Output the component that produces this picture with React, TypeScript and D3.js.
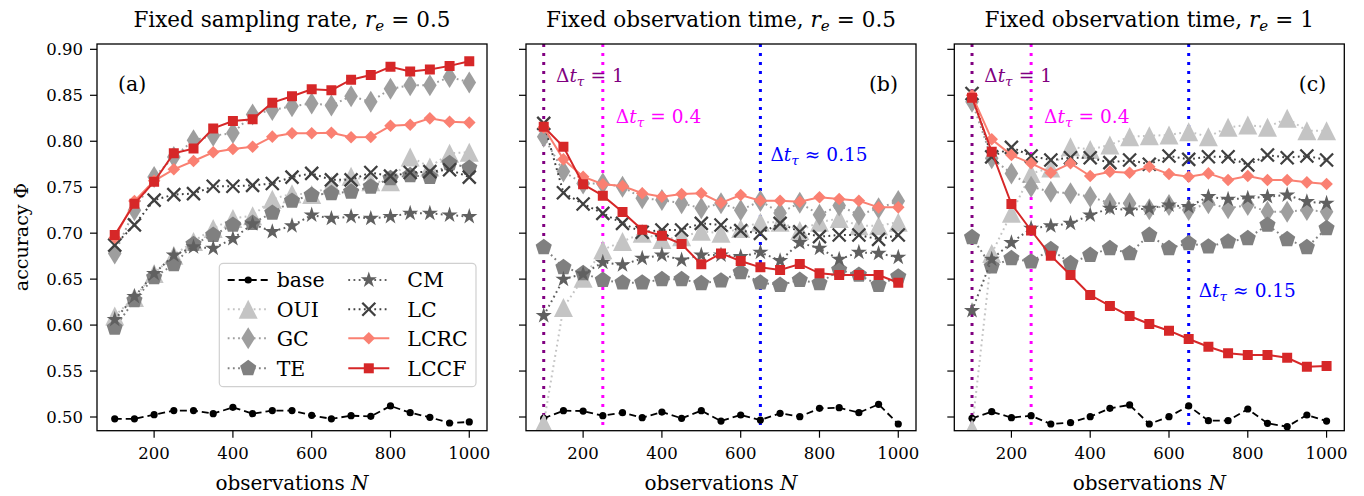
import React from "react";
import * as d3 from "d3";

const N = [100,150,200,250,300,350,400,450,500,550,600,650,700,750,800,850,900,950,1000];
const X_TICKS = [200,400,600,800,1000];
const Y_TICKS = [0.50,0.55,0.60,0.65,0.70,0.75,0.80,0.85,0.90];

const baseA = [0.498,0.498,0.5025,0.507,0.507,0.5036,0.5105,0.5036,0.507,0.507,0.5018,0.498,0.5014,0.5007,0.512,0.5047,0.4997,0.4935,0.4946];
const ouiA = [0.61,0.63,0.656,0.676,0.691,0.705,0.716,0.719,0.737,0.743,0.742,0.752,0.762,0.756,0.756,0.783,0.772,0.787,0.788];
const gcA = [0.678,0.725,0.761,0.783,0.801,0.806,0.809,0.829,0.834,0.838,0.841,0.839,0.849,0.843,0.857,0.861,0.861,0.870,0.864];
const teA = [0.597,0.627,0.652,0.666,0.688,0.698,0.709,0.711,0.722,0.735,0.7415,0.7434,0.745,0.7505,0.7597,0.763,0.761,0.776,0.771];
const cmA = [0.606,0.631,0.656,0.676,0.685,0.6835,0.694,0.71,0.7016,0.708,0.7197,0.716,0.718,0.716,0.718,0.7216,0.7216,0.7197,0.718];
const lcA = [0.687,0.709,0.736,0.742,0.743,0.751,0.751,0.752,0.754,0.761,0.765,0.758,0.758,0.766,0.762,0.766,0.767,0.769,0.761];
const lcrcA = [0.695,0.735,0.757,0.7695,0.7785,0.788,0.7916,0.794,0.805,0.8087,0.8087,0.8093,0.8043,0.8046,0.8168,0.8179,0.8249,0.8212,0.8203];
const lccfA = [0.698,0.732,0.756,0.787,0.792,0.814,0.822,0.824,0.842,0.849,0.8565,0.8555,0.867,0.872,0.881,0.876,0.878,0.882,0.887];

const baseB = [0.4986,0.5069,0.5065,0.5014,0.5047,0.4993,0.5054,0.4986,0.5069,0.4956,0.5022,0.4967,0.504,0.5004,0.5094,0.5101,0.5047,0.5138,0.4924];
const ouiB = [0.493,0.619,0.651,0.682,0.691,0.700,0.693,0.696,0.702,0.700,0.705,0.712,0.712,0.703,0.712,0.716,0.708,0.708,0.712];
const gcB = [0.805,0.767,0.754,0.754,0.7505,0.738,0.736,0.7325,0.727,0.7325,0.725,0.735,0.722,0.733,0.72,0.73,0.72,0.727,0.735];
const teB = [0.6846,0.6628,0.6563,0.649,0.6461,0.6461,0.6498,0.6498,0.6454,0.6483,0.6574,0.6461,0.6436,0.649,0.6454,0.66,0.6545,0.6436,0.6526];
const cmB = [0.6102,0.6498,0.6556,0.6683,0.6654,0.6726,0.6762,0.6708,0.6762,0.6762,0.6744,0.6792,0.67,0.6896,0.6835,0.6715,0.6792,0.678,0.6737];
const lcB = [0.8195,0.744,0.7317,0.7216,0.7107,0.701,0.7034,0.7034,0.7107,0.7089,0.7027,0.6998,0.7107,0.7016,0.6962,0.698,0.698,0.6933,0.698];
const lcrcB = [0.815,0.7803,0.7614,0.7532,0.7513,0.7434,0.7397,0.7426,0.7434,0.733,0.7415,0.7353,0.7353,0.7342,0.739,0.7372,0.7353,0.7281,0.7281];
const lccfB = [0.8158,0.794,0.7532,0.7408,0.723,0.7036,0.6972,0.6882,0.6661,0.678,0.6697,0.6628,0.66,0.6665,0.6563,0.6545,0.6545,0.6545,0.6461];

const baseC = [0.4986,0.5058,0.4993,0.5014,0.4924,0.4938,0.5004,0.5094,0.5131,0.4924,0.5004,0.512,0.496,0.496,0.5087,0.4931,0.4895,0.5022,0.4956];
const ouiC = [0.487,0.678,0.7216,0.765,0.771,0.794,0.791,0.796,0.805,0.806,0.8068,0.8104,0.805,0.8152,0.8177,0.8152,0.825,0.8115,0.8115];
const gcC = [0.843,0.7814,0.765,0.7505,0.745,0.7434,0.7397,0.7325,0.7325,0.726,0.7306,0.7252,0.7325,0.727,0.7306,0.7234,0.7234,0.7252,0.7234];
const teC = [0.6955,0.6635,0.6726,0.669,0.6824,0.6672,0.6762,0.6835,0.678,0.698,0.6835,0.689,0.6853,0.6907,0.6944,0.7089,0.6933,0.6846,0.7053];
const cmC = [0.6157,0.6716,0.6896,0.7053,0.7078,0.7107,0.7197,0.727,0.7252,0.727,0.7306,0.7288,0.7397,0.7368,0.738,0.7397,0.7415,0.7342,0.7325];
const lcC = [0.852,0.783,0.7934,0.784,0.7796,0.7821,0.7821,0.7767,0.7796,0.775,0.784,0.7803,0.7832,0.7832,0.7741,0.785,0.7821,0.784,0.7796];
const lcrcC = [0.85,0.8021,0.785,0.776,0.7658,0.776,0.7622,0.7669,0.7658,0.7723,0.7643,0.7614,0.765,0.7578,0.7622,0.7578,0.7578,0.7553,0.7535];
const lccfC = [0.8474,0.7886,0.7317,0.7029,0.6755,0.6545,0.6327,0.6208,0.6099,0.6012,0.5939,0.5849,0.5765,0.5693,0.5675,0.5675,0.5645,0.5547,0.5555];

const SERIES_NAMES = ["base","OUI","GC","TE","CM","LC","LCRC","LCCF"];
const PANEL_DATA = [
  [baseA, ouiA, gcA, teA, cmA, lcA, lcrcA, lccfA],
  [baseB, ouiB, gcB, teB, cmB, lcB, lcrcB, lccfB],
  [baseC, ouiC, gcC, teC, cmC, lcC, lcrcC, lccfC],
];
const PANEL_LABELS = ["(a)","(b)","(c)"];
const TITLES = [
  ["Fixed sampling rate, ", "0.5"],
  ["Fixed observation time, ", "0.5"],
  ["Fixed observation time, ", "1"],
];
const VLINE_N = [100, 250, 650];
const VLINE_COLORS = ["#800080", "#ff00ff", "#0000ff"];

const FONT = "'DejaVu Serif', serif";
const FS_TICK = 16.5;
const FS_TEXT = 20.5;

type Style = { color: string; dash: string | null; lw: number; marker: string };
const STYLES: Record<string, Style> = {
  base: { color: "#000000", dash: "7,4", lw: 1.8, marker: "circle" },
  OUI: { color: "#c4c4c4", dash: "1.8,3.4", lw: 2, marker: "tri" },
  GC: { color: "#9e9e9e", dash: "1.8,3.4", lw: 2, marker: "thind" },
  TE: { color: "#808080", dash: "1.8,3.4", lw: 2, marker: "pent" },
  CM: { color: "#606060", dash: "1.8,3.4", lw: 2, marker: "star" },
  LC: { color: "#404040", dash: "1.8,3.4", lw: 2, marker: "x" },
  LCRC: { color: "#fa8072", dash: null, lw: 2, marker: "diamond" },
  LCCF: { color: "#d62728", dash: null, lw: 2, marker: "square" },
};

function markerPath(type: string): string {
  const p = d3.path();
  if (type === "tri") {
    const s = 9.5;
    p.moveTo(0, -s); p.lineTo(s, s); p.lineTo(-s, s); p.closePath();
  } else if (type === "thind") {
    const h = 11, w = 6.8;
    p.moveTo(0, -h); p.lineTo(w, 0); p.lineTo(0, h); p.lineTo(-w, 0); p.closePath();
  } else if (type === "pent") {
    const r = 8.5;
    for (let k = 0; k < 5; k++) {
      const a = -Math.PI / 2 + (k * 2 * Math.PI) / 5;
      if (k === 0) p.moveTo(r * Math.cos(a), r * Math.sin(a));
      else p.lineTo(r * Math.cos(a), r * Math.sin(a));
    }
    p.closePath();
  } else if (type === "star") {
    const r = 8.5, ri = r * 0.382;
    for (let k = 0; k < 10; k++) {
      const a = -Math.PI / 2 + (k * Math.PI) / 5;
      const rr = k % 2 === 0 ? r : ri;
      if (k === 0) p.moveTo(rr * Math.cos(a), rr * Math.sin(a));
      else p.lineTo(rr * Math.cos(a), rr * Math.sin(a));
    }
    p.closePath();
  } else if (type === "x") {
    const s = 6.5;
    p.moveTo(-s, -s); p.lineTo(s, s); p.moveTo(-s, s); p.lineTo(s, -s);
  } else if (type === "diamond") {
    const s = 6.3;
    p.moveTo(0, -s); p.lineTo(s, 0); p.lineTo(0, s); p.lineTo(-s, 0); p.closePath();
  } else if (type === "square") {
    const s = 5;
    p.rect(-s, -s, 2 * s, 2 * s);
  } else {
    p.arc(0, 0, 3.6, 0, 2 * Math.PI);
  }
  return p.toString();
}

function Marker({ name, x, y }: { name: string; x: number; y: number }) {
  const st = STYLES[name];
  const d = markerPath(st.marker);
  if (st.marker === "x") {
    return <path d={d} transform={`translate(${x},${y})`} stroke={st.color} strokeWidth={2.3} fill="none" />;
  }
  return <path d={d} transform={`translate(${x},${y})`} fill={st.color} stroke="none" />;
}

const W = 390;
const LEFTS = [97, 526, 954.3];
const TOP = 44;
const BOTTOM = 430.7;

function DeltaLabel({ x, y, color, rel, val }: { x: number; y: number; color: string; rel: string; val: string }) {
  return (
    <text x={x} y={y} fill={color} fontFamily={FONT} fontSize={18.5}>
      <tspan>Δ</tspan>
      <tspan fontStyle="italic">t</tspan>
      <tspan fontStyle="italic" fontSize={13.5} dy={4}>τ</tspan>
      <tspan dy={-4}>{`\u2004${rel}\u2004${val}`}</tspan>
    </text>
  );
}

function Panel({ idx }: { idx: number }) {
  const left = LEFTS[idx];
  const x = d3.scaleLinear().domain([55, 1045]).range([left, left + W]);
  const y = d3.scaleLinear().domain([0.4851, 0.9058]).range([BOTTOM, TOP]);
  const data = PANEL_DATA[idx];
  const clipId = `clip${idx}`;
  const cx = left + W / 2;
  return (
    <g>
      <defs>
        <clipPath id={clipId}>
          <rect x={left} y={TOP} width={W} height={BOTTOM - TOP} />
        </clipPath>
      </defs>
      <g clipPath={`url(#${clipId})`}>
        {idx > 0 &&
          VLINE_N.map((n, i) => (
            <line key={i} x1={x(n)} x2={x(n)} y1={TOP} y2={BOTTOM} stroke={VLINE_COLORS[i]} strokeWidth={3} strokeDasharray="3,6" />
          ))}
        {data.map((vals, si) => {
          const name = SERIES_NAMES[si];
          const st = STYLES[name];
          const line = d3.line<number>().x((_, i) => x(N[i])).y((v) => y(v));
          return (
            <g key={name}>
              <path d={line(vals) || ""} fill="none" stroke={st.color} strokeWidth={st.lw} strokeDasharray={st.dash || undefined} />
              {vals.map((v, i) => (
                <Marker key={i} name={name} x={x(N[i])} y={y(v)} />
              ))}
            </g>
          );
        })}
      </g>
      <rect x={left} y={TOP} width={W} height={BOTTOM - TOP} fill="none" stroke="#000" strokeWidth={1.3} />
      {X_TICKS.map((t) => (
        <g key={t}>
          <line x1={x(t)} x2={x(t)} y1={BOTTOM} y2={BOTTOM + 7} stroke="#000" strokeWidth={1.2} />
          <text x={x(t)} y={459} textAnchor="middle" fontFamily={FONT} fontSize={FS_TICK}>{t}</text>
        </g>
      ))}
      {Y_TICKS.map((t) => (
        <g key={t}>
          <line x1={left - 7} x2={left} y1={y(t)} y2={y(t)} stroke="#000" strokeWidth={1.2} />
          {idx === 0 && (
            <text x={left - 14} y={y(t)} dy="0.36em" textAnchor="end" fontFamily={FONT} fontSize={FS_TICK}>{t.toFixed(2)}</text>
          )}
        </g>
      ))}
      <text x={cx} y={490} textAnchor="middle" fontFamily={FONT} fontSize={FS_TEXT - 0.5}>
        <tspan>observations </tspan>
        <tspan fontStyle="italic">N</tspan>
      </text>
      <text x={cx} y={27} textAnchor="middle" fontFamily={FONT} fontSize={21.5}>
        <tspan>{TITLES[idx][0]}</tspan>
        <tspan fontStyle="italic">r</tspan>
        <tspan fontStyle="italic" fontSize={15} dy={4}>e</tspan>
        <tspan dy={-4}>{`\u2004=\u2004${TITLES[idx][1]}`}</tspan>
      </text>
      {idx === 0 ? (
        <text x={118} y={91} fontFamily={FONT} fontSize={FS_TEXT}>{PANEL_LABELS[idx]}</text>
      ) : (
        <text x={left + W - 18} y={91} textAnchor="end" fontFamily={FONT} fontSize={FS_TEXT}>{PANEL_LABELS[idx]}</text>
      )}
      {idx > 0 && (
        <g>
          <DeltaLabel x={left + 30} y={82} color={VLINE_COLORS[0]} rel="=" val="1" />
          <DeltaLabel x={x(250) + 13} y={123} color={VLINE_COLORS[1]} rel="=" val="0.4" />
          <DeltaLabel x={x(650) + 10} y={idx === 1 ? 161 : 297} color={VLINE_COLORS[2]} rel="≈" val="0.15" />
        </g>
      )}
    </g>
  );
}

function Legend() {
  const rows = [280, 309.3, 338.3, 368.3];
  const cols = [{ hx: 227.7, tx: 276.7 }, { hx: 348.3, tx: 407.3 }];
  return (
    <g>
      <rect x={219.3} y={263.3} width={256.7} height={123.4} rx={4} fill="#ffffff" fillOpacity={0.85} stroke="#d0d0d0" strokeWidth={1.2} />
      {SERIES_NAMES.map((name, i) => {
        const c = cols[Math.floor(i / 4)];
        const ry = rows[i % 4];
        const st = STYLES[name];
        return (
          <g key={name}>
            <line x1={c.hx} x2={c.hx + 41} y1={ry} y2={ry} stroke={st.color} strokeWidth={st.lw} strokeDasharray={st.dash || undefined} />
            <Marker name={name} x={c.hx + 20.5} y={ry} />
            <text x={c.tx} y={ry} dy="0.36em" fontFamily={FONT} fontSize={FS_TEXT}>{name}</text>
          </g>
        );
      })}
    </g>
  );
}

export default function App() {
  return (
    <svg width={1364} height={496} style={{ position: "absolute", left: 0, top: 0, background: "#fff" }}>
      <rect x={0} y={0} width={1364} height={496} fill="#fff" />
      {[0, 1, 2].map((i) => (
        <Panel key={i} idx={i} />
      ))}
      <Legend />
      <text transform="translate(28,237) rotate(-90)" textAnchor="middle" fontFamily={FONT} fontSize={19}>
        <tspan>accuracy </tspan>
        <tspan>Φ</tspan>
      </text>
    </svg>
  );
}
